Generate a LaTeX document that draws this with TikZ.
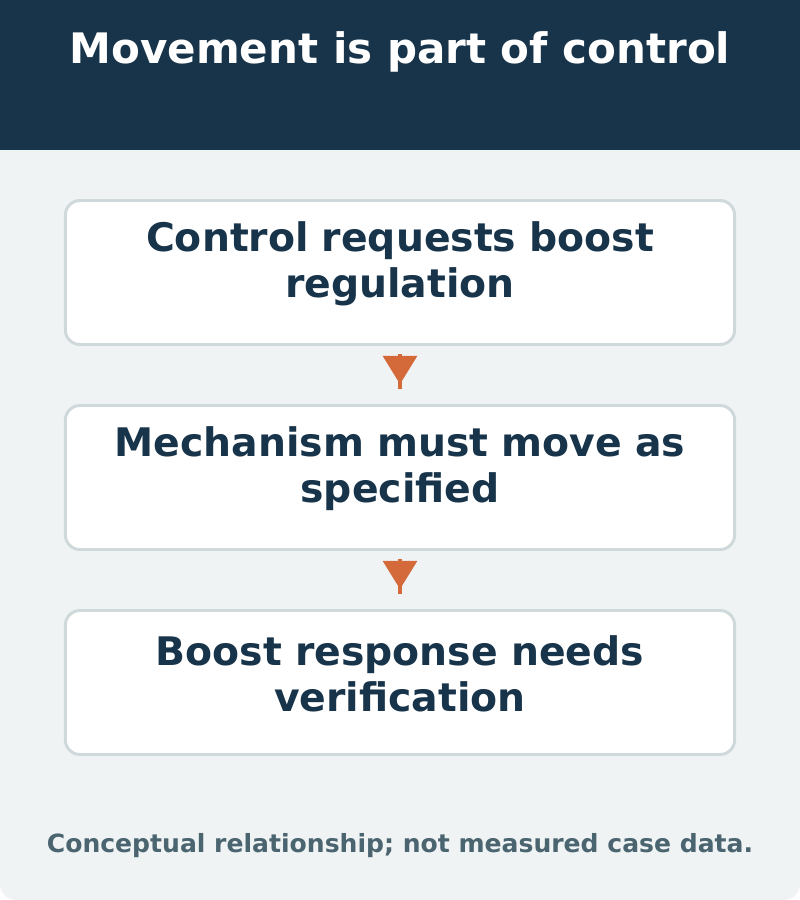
\documentclass[tikz,border=0pt]{standalone}
\usepackage{fontspec}
\setmainfont{DejaVu Sans}
\usetikzlibrary{positioning}
\definecolor{navy}{HTML}{17344A}
\definecolor{paper}{HTML}{F0F3F4}
\definecolor{edge}{HTML}{CFD9DC}
\definecolor{rust}{HTML}{D46A3A}
\definecolor{note}{HTML}{4A6470}
\tikzset{
    stage/.style={draw=edge,line width=2.2pt,fill=white,rounded corners=11pt,
        minimum width=502pt,minimum height=108pt},
    label/.style={align=center,text width=490pt,
        font=\bfseries\fontsize{29.5}{34.5}\selectfont,text=navy},
    flow/.style={draw=rust,line width=3pt},
}
\begin{document}
\begin{tikzpicture}[x=0.75pt,y=-0.75pt]
    \useasboundingbox (0,0) rectangle (800,900);
    \fill [paper,rounded corners=12pt] (0,0) rectangle (800,900);
    \fill [navy] (0,0) rectangle (800,150);
    \node [text=white,font=\bfseries\fontsize{31.5}{36}\selectfont] (title) at (400,52) {Movement is part of control};
    \node [stage] (request) at (400,272.5) {};
    \node [stage] (mechanism) at (400,477.5) {};
    \node [stage] (verify) at (400,682.5) {};
    \node [label] (requestText) at (400,264) {Control requests boost\\regulation};
    \node [label] (mechanismText) at (400,469) {Mechanism must move as\\specified};
    \node [label] (verifyText) at (400,674) {Boost response needs\\verification};
    \foreach \a/\b in {request/mechanism,mechanism/verify} {
        \coordinate (top) at ([yshift=-6pt]\a.south);
        \coordinate (bot) at ([yshift=11pt]\b.north);
        \draw [flow] (top) -- (bot);
        \fill [rust] ([xshift=-13pt,yshift=-1.5pt]top) -- ([xshift=13pt,yshift=-1.5pt]top) -- ([yshift=4pt]bot) -- cycle;
    }
    \node [text=note,font=\bfseries\fontsize{18.8}{22}\selectfont] (footer) at (400,846) {Conceptual relationship; not measured case data.};
\end{tikzpicture}
\end{document}
